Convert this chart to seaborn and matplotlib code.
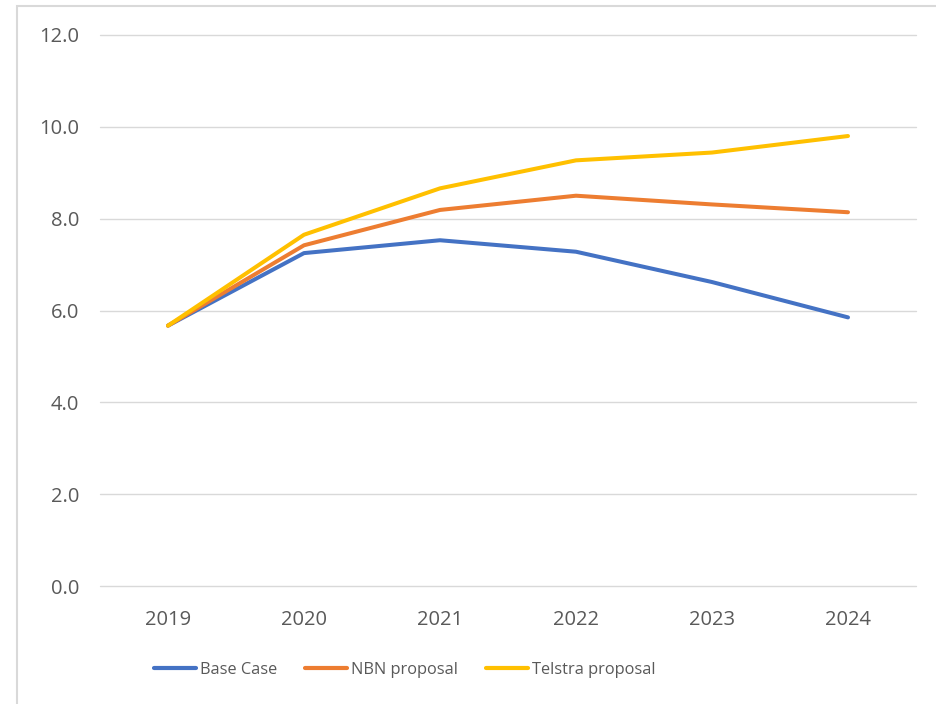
import matplotlib
matplotlib.use("Agg")
import matplotlib.pyplot as plt
import seaborn as sns
import pandas as pd
from matplotlib.patches import Rectangle

years = ["2019", "2020", "2021", "2022", "2023", "2024"]
base_case = [5.67, 7.25, 7.53, 7.28, 6.62, 5.85]
nbn_proposal = [5.67, 7.42, 8.19, 8.50, 8.31, 8.14]
telstra_proposal = [5.67, 7.65, 8.66, 9.27, 9.44, 9.80]
series_names = ["Base Case", "NBN proposal", "Telstra proposal"]
colors = ["#4472C4", "#ED7D31", "#FFC000"]
yticks = [0, 2, 4, 6, 8, 10, 12]

df = pd.DataFrame({
    "year": years * 3,
    "value": base_case + nbn_proposal + telstra_proposal,
    "series": [series_names[0]] * 6 + [series_names[1]] * 6 + [series_names[2]] * 6,
})

sns.set_theme(style="white")
plt.rcParams["font.family"] = ["Open Sans", "DejaVu Sans"]

fig = plt.figure(figsize=(9.36, 7.04), dpi=100)
ax = fig.add_axes([100 / 936, 1 - 586 / 704, 816 / 936, 551 / 704])

sns.lineplot(data=df, x="year", y="value", hue="series", hue_order=series_names,
             palette=colors, linewidth=2.9, sort=False, ax=ax,
             solid_capstyle="round", solid_joinstyle="round")

ax.set_xlim(-0.5, 5.5)
ax.set_ylim(0, 12)
ax.set_yticks(yticks)
ax.set_yticklabels([f"{v:.1f}" for v in yticks])
ax.set_xlabel("")
ax.set_ylabel("")
ax.grid(axis="y", color="#D9D9D9", linewidth=1)
for gl in ax.get_ygridlines():
    gl.set_clip_on(False)
ax.set_axisbelow(True)
for s in ax.spines.values():
    s.set_visible(False)
ax.tick_params(axis="both", length=0, labelsize=14.5, labelcolor="#595959")
ax.tick_params(axis="y", pad=15)
ax.tick_params(axis="x", pad=17)

handles, labels = ax.get_legend_handles_labels()
if ax.legend_:
    ax.legend_.remove()
for h in handles:
    h.set_linewidth(3.0)
    h.set_solid_capstyle("round")
leg = fig.legend(handles, labels, loc="center", bbox_to_anchor=(405 / 936, 1 - 670 / 704),
                 ncol=3, frameon=False, handlelength=2.55, handletextpad=0.25,
                 columnspacing=1.7, labelcolor="#595959",
                 prop={"family": ["Open Sans", "DejaVu Sans"], "size": 11.8})

fig.patches.append(Rectangle((17 / 936, -0.1), 1.2, 1 - 6 / 704 + 0.1, transform=fig.transFigure,
                             fill=False, edgecolor="#D9D9D9", linewidth=1.5))

fig.savefig("out.png", dpi=100)
